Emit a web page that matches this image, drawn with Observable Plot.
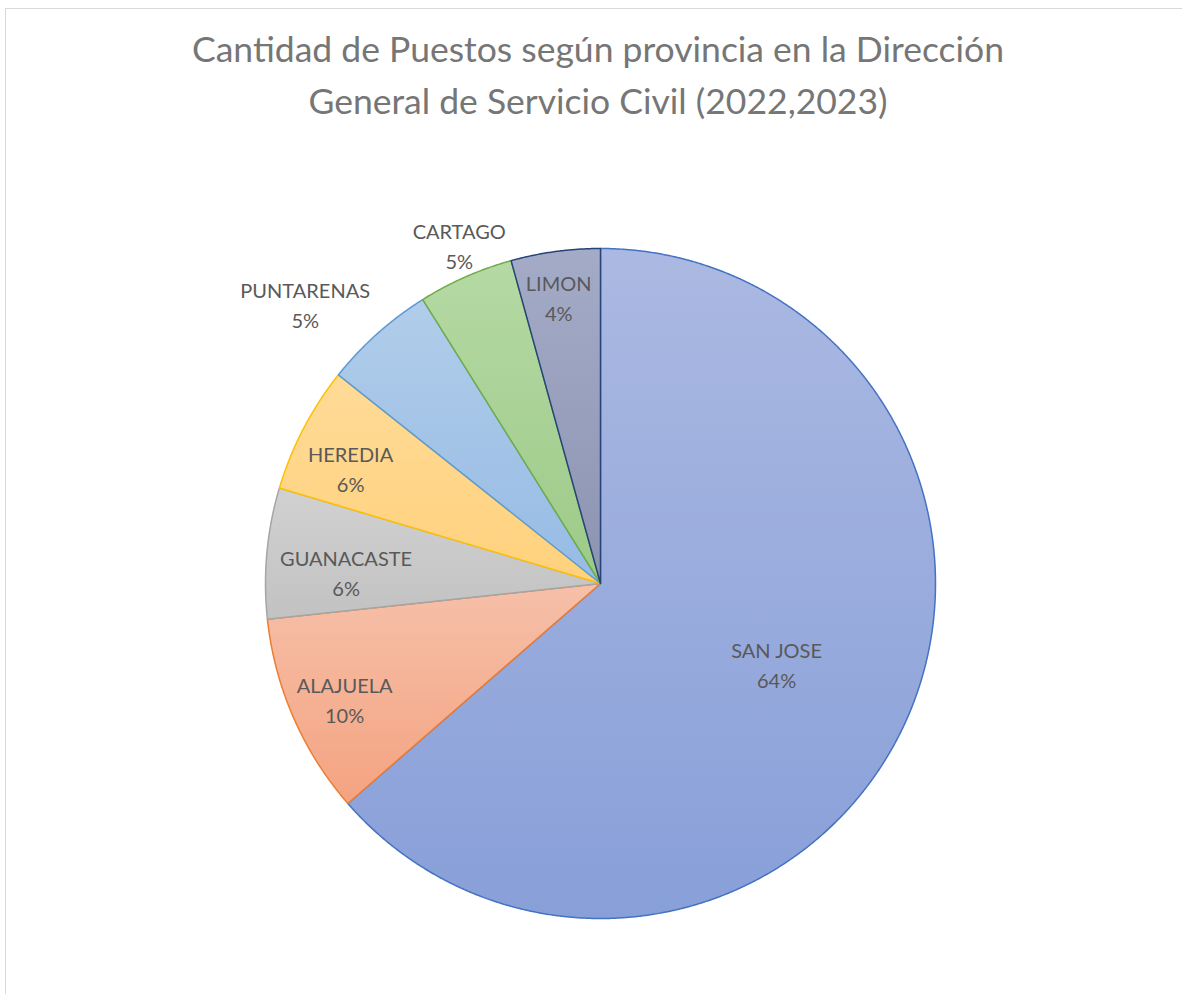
<!DOCTYPE html>
<html><head><meta charset="utf-8">
<script src="https://cdn.jsdelivr.net/npm/d3@7"></script>
<script src="https://cdn.jsdelivr.net/npm/@observablehq/plot@0.6"></script>
<style>
body{margin:0;background:#fff;overflow:hidden;width:1182px;height:994px;position:relative}
#frame{position:absolute;left:5px;top:8px;width:1400px;height:1200px;border:1.5px solid #d9d9d9;}
#title{position:absolute;left:0;top:23px;width:1196px;text-align:center;font-family:Lato,sans-serif;font-size:35.5px;line-height:52px;color:#767676;}
#chart{position:absolute;left:0;top:140px;}
</style></head><body>
<div id="frame"></div>
<div id="title">Cantidad de Puestos según provincia en la Dirección<br>General de Servicio Civil (2022,2023)</div>
<div id="chart"></div>
<script>
// Data (percent share of posts per province)
const provinces = ["SAN JOSE","ALAJUELA","GUANACASTE","HEREDIA","PUNTARENAS","CARTAGO","LIMON"];
const shares = [63.6, 9.7, 6.3, 6.1, 5.4, 4.6, 4.3];

// Styles
const gradTop    = ["#abb9e2","#f6c0a9","#d1d1d1","#ffdb98","#b1cdea","#b5d9a4","#a4abc7"];
const gradBottom = ["#889fd8","#f4a381","#c2c2c2","#ffd17c","#96bbe4","#9dca88","#8c94b2"];
const strokes    = ["#4472c4","#ed7d31","#a5a5a5","#ffc000","#5b9bd5","#70ad47","#264478"];
// label placement (layout): [radius as fraction of pie radius, angle shift in degrees]
const labelPlacement = {
  "SAN JOSE": [0.58, 0.5], "ALAJUELA": [0.84, -1], "GUANACASTE": [0.76, -3],
  "HEREDIA": [0.82, -3], "PUNTARENAS": [1.21, -5], "CARTAGO": [1.09, 1], "LIMON": [0.86, -0.6]
};

const total = d3.sum(shares);
let acc = 0;
const slices = provinces.map((p, i) => {
  const a0 = acc / total * 2 * Math.PI;
  acc += shares[i];
  const a1 = acc / total * 2 * Math.PI;
  return {name: p, value: shares[i], a0, a1, i};
});

function slicePoints(s) {
  const pts = [{x: 0, y: 0}];
  const n = Math.max(2, Math.ceil((s.a1 - s.a0) / (Math.PI / 720)));
  for (let k = 0; k <= n; k++) {
    const a = s.a0 + (s.a1 - s.a0) * k / n;
    pts.push({x: Math.sin(a), y: Math.cos(a)});
  }
  pts.push({x: 0, y: 0});
  return pts;
}

const labels = slices.map(s => {
  const [r, shift] = labelPlacement[s.name];
  const m = (s.a0 + s.a1) / 2 + shift * Math.PI / 180;
  return {x: Math.sin(m) * r, y: Math.cos(m) * r,
          text: s.name + "\n" + Math.round(s.value / total * 100) + "%"};
});

const defs = () => {
  const d = d3.create("svg:defs");
  slices.forEach(s => {
    const g = d.append("linearGradient").attr("id", "grad" + s.i)
      .attr("x1", 0).attr("y1", 0).attr("x2", 0).attr("y2", 1);
    g.append("stop").attr("offset", "0%").attr("stop-color", gradTop[s.i]);
    g.append("stop").attr("offset", "100%").attr("stop-color", gradBottom[s.i]);
  });
  return d.node();
};

const cx = 600, cy = 443, R = 335;
const chart = Plot.plot({
  width: 1182,
  height: 854,
  margin: 0,
  style: {background: "transparent", overflow: "visible"},
  x: {domain: [-1, 1], range: [cx - R, cx + R], axis: null},
  y: {domain: [-1, 1], range: [cy + R, cy - R], axis: null},
  marks: [
    defs,
    ...slices.map(s => Plot.line(slicePoints(s), {
      x: "x", y: "y",
      fill: `url(#grad${s.i})`,
      stroke: strokes[s.i],
      strokeWidth: 1.5,
      strokeLinejoin: "round"
    })),
    Plot.text(labels, {
      x: "x", y: "y", text: "text",
      dy: -2,
      fontFamily: "Lato, sans-serif",
      fontSize: 20,
      lineHeight: 1.5,
      fill: "#595959"
    })
  ]
});
document.getElementById("chart").appendChild(chart);
</script>
</body></html>
